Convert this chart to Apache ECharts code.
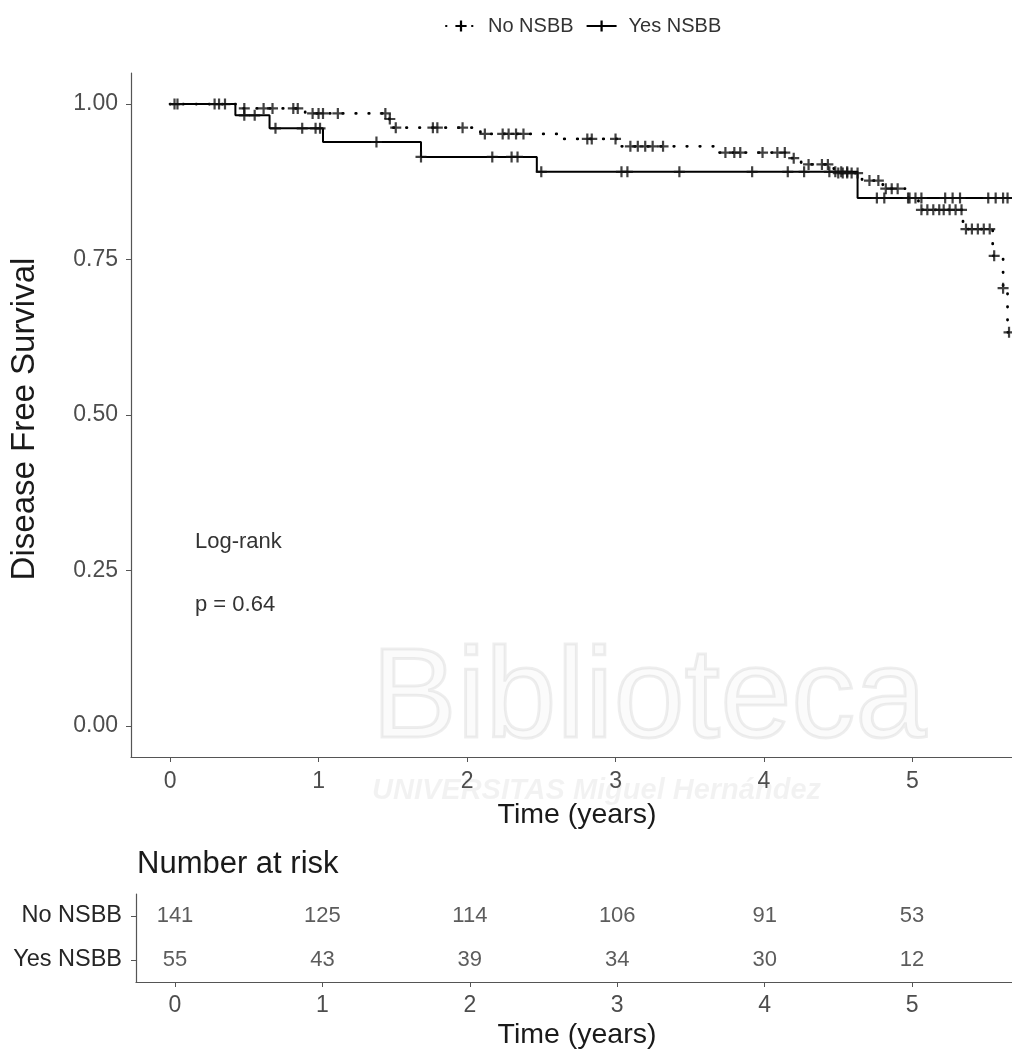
<!DOCTYPE html>
<html>
<head>
<meta charset="utf-8">
<script src="https://cdn.jsdelivr.net/npm/echarts@6/dist/echarts.min.js"></script>
<style>
html,body{margin:0;padding:0;background:#fff;}
#chart{width:1012px;height:1057px;}
</style>
</head>
<body>
<div id="chart"></div>
<script>
// ---------------- data ----------------
const groups = ['No NSBB', 'Yes NSBB'];
// Kaplan-Meier step points (time in years, survival after the step)
const noTimes = [0, 0.45, 0.91, 1.47, 1.50, 2.09, 2.65, 3.03, 3.70, 4.18, 4.25, 4.47, 4.66, 4.80, 4.96, 5.04, 5.34, 5.54, 5.61, 5.64];
const noSurv  = [1, 0.993, 0.985, 0.976, 0.962, 0.952, 0.944, 0.932, 0.922, 0.913, 0.903, 0.889, 0.877, 0.864, 0.849, 0.830, 0.799, 0.756, 0.704, 0.633];
const noEnd = 5.65;
const yesTimes = [0, 0.44, 0.67, 1.03, 1.69, 2.47, 4.63];
const yesSurv  = [1, 0.982, 0.961, 0.939, 0.915, 0.891, 0.849];
const yesEnd = 5.67;
// censoring times
const noCensor = [0.03, 0.33, 0.50, 0.63, 0.69, 0.83, 0.86, 0.96, 1.00, 1.03, 1.13, 1.45, 1.48, 1.52, 1.77, 1.80, 1.97,
  2.12, 2.24, 2.28, 2.33, 2.38, 2.81, 2.84, 3.00, 3.10, 3.15, 3.20, 3.25, 3.32, 3.74, 3.80, 3.84, 3.99, 4.09, 4.14,
  4.20, 4.30, 4.39, 4.43, 4.50, 4.53, 4.56, 4.59, 4.63, 4.71, 4.77, 4.82, 4.86, 4.90, 4.98,
  5.06, 5.10, 5.14, 5.18, 5.21, 5.25, 5.29, 5.33, 5.36, 5.40, 5.44, 5.48, 5.52, 5.55, 5.61, 5.65];
const yesCensor = [0.05, 0.30, 0.37, 0.50, 0.57, 0.71, 0.89, 0.98, 1.01, 1.39, 1.69, 2.17, 2.30, 2.34, 2.50,
  3.04, 3.08, 3.43, 3.92, 4.16, 4.27, 4.44, 4.48, 4.52, 4.56, 4.76, 4.81, 4.97, 5.02, 5.06, 5.22, 5.27, 5.32,
  5.51, 5.56, 5.61, 5.64];
// number at risk table
const riskTimes = [0, 1, 2, 3, 4, 5];
const riskNo  = [141, 125, 114, 106, 91, 53];
const riskYes = [55, 43, 39, 34, 30, 12];
// tick labels
const xTicks = [0, 1, 2, 3, 4, 5];
const yTicks = [0, 0.25, 0.5, 0.75, 1];

// ---------------- helpers ----------------
function survAt(times, surv, t) {
  let s = surv[0];
  for (let i = 0; i < times.length; i++) if (times[i] <= t) s = surv[i];
  return s;
}
function stepData(times, surv, end) {
  const d = times.map((t, i) => [t, surv[i]]);
  d.push([end, surv[surv.length - 1]]);
  return d;
}
const plus = 'path://M4.6,0h2.3v4.6h4.6v2.3h-4.6v4.6h-2.3v-4.6h-4.6v-2.3h4.6z';
const FONT = 'Liberation Sans, Arial, Helvetica, sans-serif';
const tickColor = '#4d4d4d';
const axisCol = '#555';

const chart = echarts.init(document.getElementById('chart'), null, {renderer: 'canvas'});
const option = {
  backgroundColor: '#fff',
  animation: false,
  textStyle: {fontFamily: FONT},
  legend: {
    data: groups,
    top: 11, left: 440,
    itemWidth: 30, itemHeight: 14, itemGap: 12,
    textStyle: {fontSize: 20, color: '#333', fontFamily: FONT, padding: [0, 0, 0, 7]}
  },
  grid: [
    {left: 131, right: 0, top: 73, height: 684, containLabel: false},
    {left: 136, right: 0, top: 894, height: 88, containLabel: false}
  ],
  xAxis: [
    {
      type: 'value', gridIndex: 0, min: -0.263, max: 5.67,
      axisLine: {show: true, onZero: false, lineStyle: {color: axisCol, width: 1.2}},
      axisTick: {show: true, length: 5, customValues: xTicks, lineStyle: {color: axisCol}},
      axisLabel: {customValues: xTicks, margin: 13, fontSize: 23, color: tickColor, fontFamily: FONT},
      splitLine: {show: false}
    },
    {
      type: 'value', gridIndex: 1, min: -0.2646, max: 5.678,
      axisLine: {show: true, onZero: false, lineStyle: {color: axisCol, width: 1.2}},
      axisTick: {show: true, length: 5, customValues: xTicks, lineStyle: {color: axisCol}},
      axisLabel: {customValues: xTicks, margin: 12, fontSize: 23, color: tickColor, fontFamily: FONT},
      splitLine: {show: false}
    }
  ],
  yAxis: [
    {
      type: 'value', gridIndex: 0, min: -0.05, max: 1.05,
      axisLine: {show: true, onZero: false, lineStyle: {color: axisCol, width: 1.2}},
      axisTick: {show: true, length: 5, customValues: yTicks, lineStyle: {color: axisCol}},
      axisLabel: {customValues: yTicks, margin: 13, fontSize: 23, color: tickColor, fontFamily: FONT,
        formatter: v => v.toFixed(2)},
      splitLine: {show: false}
    },
    {
      type: 'category', gridIndex: 1, data: [groups[1], groups[0]],
      axisLine: {show: true, onZero: false, lineStyle: {color: axisCol, width: 1.2}},
      axisTick: {show: true, length: 5, alignWithLabel: true, lineStyle: {color: axisCol}},
      axisLabel: {margin: 14, fontSize: 23.5, color: '#262626', fontFamily: FONT},
      splitLine: {show: false}
    }
  ],
  series: [
    {
      name: groups[0], type: 'line', xAxisIndex: 0, yAxisIndex: 0, step: 'end',
      data: stepData(noTimes, noSurv, noEnd),
      symbol: plus, symbolSize: 11, showSymbol: false,
      itemStyle: {color: '#000'},
      lineStyle: {color: '#000', width: 2.8, type: [0.5, 12.5], cap: 'round'},
      z: 3
    },
    {
      name: groups[1], type: 'line', xAxisIndex: 0, yAxisIndex: 0, step: 'end',
      data: stepData(yesTimes, yesSurv, yesEnd),
      symbol: plus, symbolSize: 11, showSymbol: false,
      itemStyle: {color: '#000'},
      lineStyle: {color: '#000', width: 2},
      z: 3
    },
    {
      name: 'No NSBB censored', type: 'scatter', xAxisIndex: 0, yAxisIndex: 0,
      data: noCensor.map(t => [t, survAt(noTimes, noSurv, t)]),
      symbol: plus, symbolSize: 11, itemStyle: {color: '#111'}, z: 4
    },
    {
      name: 'Yes NSBB censored', type: 'scatter', xAxisIndex: 0, yAxisIndex: 0,
      data: yesCensor.map(t => [t, survAt(yesTimes, yesSurv, t)]),
      symbol: plus, symbolSize: 11, itemStyle: {color: '#111'}, z: 4
    },
    {
      name: 'Risk table', type: 'scatter', xAxisIndex: 1, yAxisIndex: 1,
      data: riskTimes.map((t, i) => [t, groups[0], riskNo[i]])
        .concat(riskTimes.map((t, i) => [t, groups[1], riskYes[i]])),
      symbolSize: 0, itemStyle: {color: 'transparent'},
      label: {show: true, position: 'inside', formatter: p => String(p.value[2]),
        fontSize: 22, color: '#333', fontFamily: FONT}
    }
  ],
  graphic: [
    {type: 'text', left: 370, top: 636, z: 0, silent: true,
      style: {text: 'Biblioteca', font: '128px ' + FONT, fill: 'rgba(0,0,0,0.015)', stroke: 'rgba(0,0,0,0.065)', lineWidth: 3}},
    {type: 'text', left: 372, top: 776, z: 0, silent: true,
      style: {text: 'UNIVERSITAS Miguel Hernández', font: 'italic bold 29px ' + FONT, fill: 'rgba(0,0,0,0.05)'}},
    {type: 'text', x: 195, y: 542, style: {text: 'Log-rank', font: '22px ' + FONT, fill: '#333', verticalAlign: 'middle'}},
    {type: 'text', x: 195, y: 605, style: {text: 'p = 0.64', font: '22px ' + FONT, fill: '#333', verticalAlign: 'middle'}},
    {type: 'text', x: 577, y: 815, style: {text: 'Time (years)', font: '28.5px ' + FONT, fill: '#1a1a1a', align: 'center', verticalAlign: 'middle'}},
    {type: 'text', x: 577, y: 1035, style: {text: 'Time (years)', font: '28.5px ' + FONT, fill: '#1a1a1a', align: 'center', verticalAlign: 'middle'}},
    {type: 'text', x: 25, y: 419, rotation: Math.PI / 2,
      style: {text: 'Disease Free Survival', font: '33px ' + FONT, fill: '#1a1a1a', align: 'center', verticalAlign: 'middle'}},
    {type: 'text', x: 137, y: 864, style: {text: 'Number at risk', font: '31px ' + FONT, fill: '#1a1a1a', verticalAlign: 'middle'}}
  ]
};
chart.setOption(option);
</script>
</body>
</html>
